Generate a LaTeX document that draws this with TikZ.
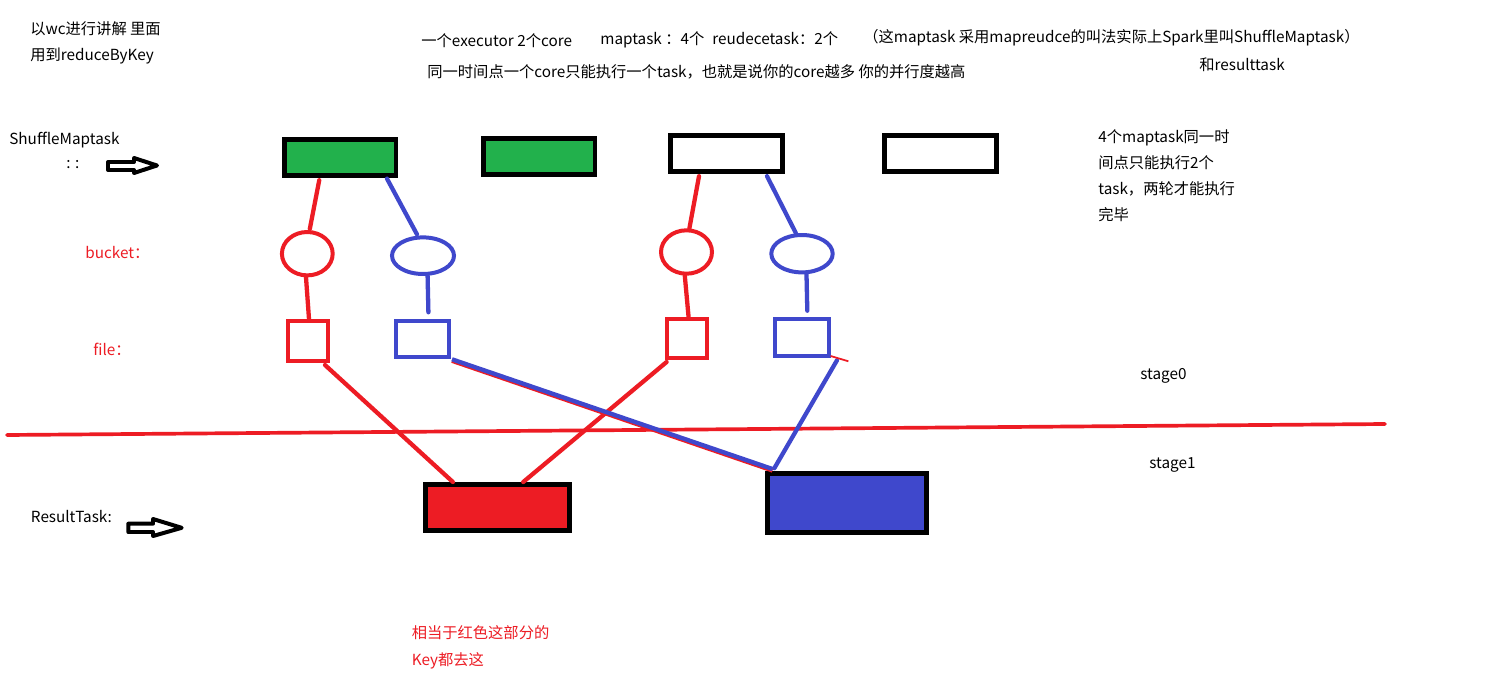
\documentclass[tikz,border=0pt]{standalone}
\usepackage{fontspec}
\setmainfont{Noto Sans CJK SC}
\usetikzlibrary{shapes.geometric,calc}
\definecolor{pgreen}{HTML}{22B14C}
\definecolor{pred}{HTML}{ED1C24}
\definecolor{pblue}{HTML}{3F48CC}
\begin{document}
\begin{tikzpicture}[x=0.02cm,y=-0.02cm,
  tx/.style={anchor=west,inner sep=0pt,font=\fontsize{8.7pt}{10pt}\selectfont,text height=7.2pt,text depth=1.4pt},
  rtx/.style={tx,text=pred},
  box/.style={draw=black,line width=2.83pt,rectangle,inner sep=0pt},
  rshape/.style={draw=pred,line width=2.27pt,inner sep=0pt},
  bshape/.style={draw=pblue,line width=2.27pt,inner sep=0pt},
  rline/.style={draw=pred,line width=2.44pt,line cap=round},
  bline/.style={draw=pblue,line width=2.44pt,line cap=round},
  harrow/.style={draw=black,fill=white,line width=2.27pt,line join=round}
]
\useasboundingbox[fill=white] (0,0) rectangle (1486,682);

% texts
\node[tx] (t1) at (30,29) {以wc进行讲解 里面};
\node[tx] (t2) at (30,55) {用到reduceByKey};
\node[tx] (t3) at (421,41) {一个executor 2个core};
\node[tx] (t4) at (600,39) {maptask ：4个};
\node[tx] (t5) at (712,39) {reudecetask：2个};
\node[tx] (t6) at (863,37.5) {（这maptask 采用mapreudce的叫法实际上Spark里叫ShuffleMaptask）};
\node[tx] (t7) at (427,72) {同一时间点一个core只能执行一个task，也就是说你的core越多 你的并行度越高};
\node[tx] (t8) at (1199,65.7) {和resulttask};
\node[tx] (r1) at (1098,137.3) {4个maptask同一时};
\node[tx] (r2) at (1098,163.3) {间点只能执行2个};
\node[tx] (r3) at (1098,189.3) {task，两轮才能执行};
\node[tx] (r4) at (1098,215) {完毕};
\node[tx] (sm) at (9,139) {ShuffleMaptask};
\node[tx] (cc) at (66,163) {: :};
\node[rtx] (bk) at (85,253) {bucket：};
\node[rtx] (fl) at (93,350) {file：};
\node[tx] (st0) at (1140,374) {stage0};
\node[tx] (st1) at (1149,463) {stage1};
\node[tx] (rt) at (30.6,517) {ResultTask:};
\node[rtx] (n1) at (411.4,633.3) {相当于红色这部分的};
\node[rtx] (n2) at (411.4,660) {Key都去这};

% hollow arrows
\draw[harrow] (108,162) -- (134,162) -- (134,158) -- (157,165.5) -- (134,173) -- (134,170) -- (108,170) -- cycle;
\draw[harrow] (128.3,523.7) -- (153,523.7) -- (153,519) -- (181.7,527.8) -- (153,536) -- (153,532) -- (128.3,532) -- cycle;

% task boxes
\node[box,fill=pgreen,minimum width=2.23cm,minimum height=0.714cm] (g1) at (340.25,157.35) {};
\node[box,fill=pgreen,minimum width=2.226cm,minimum height=0.72cm] (g2) at (539.35,156.2) {};
\node[box,fill=white,minimum width=2.234cm,minimum height=0.714cm] (w3) at (726.35,153.35) {};
\node[box,fill=white,minimum width=2.24cm,minimum height=0.714cm] (w4) at (940.5,153.65) {};
\node[box,fill=pred,minimum width=2.878cm,minimum height=0.926cm] (rb) at (497.35,507.65) {};
\node[box,fill=pblue,minimum width=3.172cm,minimum height=1.174cm] (bb) at (846.8,502.85) {};

% buckets
\node[rshape,ellipse,minimum width=1.016cm,minimum height=0.868cm] (c1) at (307.3,253.7) {};
\node[bshape,ellipse,minimum width=1.24cm,minimum height=0.732cm] (e1) at (423,255.7) {};
\node[rshape,ellipse,minimum width=1.02cm,minimum height=0.868cm] (c2) at (686.5,252) {};
\node[bshape,ellipse,minimum width=1.228cm,minimum height=0.748cm] (e2) at (802,253.7) {};

% files
\node[rshape,rectangle,minimum width=0.794cm,minimum height=0.806cm] (s1) at (307.85,341.15) {};
\node[bshape,rectangle,minimum width=1.068cm,minimum height=0.726cm] (b1) at (422.7,339.15) {};
\node[rshape,rectangle,minimum width=0.79cm,minimum height=0.774cm] (s2) at (686.75,338.65) {};
\node[bshape,rectangle,minimum width=1.076cm,minimum height=0.734cm] (b2) at (802.1,337.35) {};

% free ends
\coordinate (f1) at ($(b1.north)+(5.7,-6.7)$);
\coordinate (f2) at ($(b2.north)+(5.2,-6.3)$);
\coordinate (sl) at (7,435);
\coordinate (sr) at (1385,424);

% connectors: task -> bucket
\draw[rline] ($(g1.south)+(-21,2.5)$) -- ($(c1.north)+(2.5,-1)$);
\draw[bline] ($(g1.south)+(46.75,1)$) -- ($(e1.north)+(-6,-1)$);
\draw[rline] ($(w3.south)+(-27.35,2.5)$) -- ($(c2.north)+(2.9,0)$);
\draw[bline] ($(w3.south)+(40.65,2.5)$) -- ($(e2.north)+(-6.2,0)$);
% bucket -> file
\draw[rline] ($(c1.south)+(-1.3,0)$) -- ($(s1.north)+(1.15,0)$);
\draw[bline] ($(e1.south)+(4.6,0)$) -- (f1);
\draw[rline] ($(c2.south)+(-1.7,0)$) -- ($(s2.north)+(1.85,0)$);
\draw[bline] ($(e2.south)+(4.5,0)$) -- (f2);

% stage line
\draw[draw=pred,line width=2.1pt,line cap=round] (sl) -- (sr);

% file -> result task
\draw[rline] ($(s1.south east)+(-4.7,1.7)$) -- ($(rb.north)+(-44.45,0)$);
\draw[rline] ($(s2.south west)+(1.6,2)$) -- ($(rb.north)+(25.85,0)$);
\draw[draw=pred,line width=2.44pt] ($(b1.south east)+(0.6,1.5)$) -- ($(bb.north west)+(7.5,-0.5)$);
\draw[bline,line cap=butt] ($(b1.south east)+(0.6,0)$) -- ($(bb.north west)+(7.5,-2)$);
\draw[bline] ($(b2.south east)+(6,2.6)$) -- ($(bb.north west)+(9.3,-2.8)$);
\draw[draw=pred,line width=1pt] ($(b2.south east)+(-0.4,-1.7)$) -- ($(b2.south east)+(17.4,3.6)$);
\end{tikzpicture}
\end{document}
